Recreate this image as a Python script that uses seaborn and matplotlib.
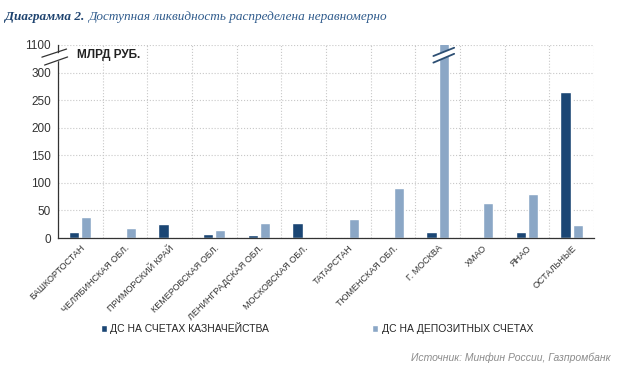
import numpy as np
import pandas as pd
import seaborn as sns
import matplotlib.pyplot as plt
from matplotlib.lines import Line2D
from matplotlib.patches import Polygon

regions = ['БАШКОРТОСТАН', 'ЧЕЛЯБИНСКАЯ ОБЛ.', 'ПРИМОРСКИЙ КРАЙ', 'КЕМЕРОВСКАЯ ОБЛ.',
           'ЛЕНИНГРАДСКАЯ ОБЛ.', 'МОСКОВСКАЯ ОБЛ.', 'ТАТАРСТАН', 'ТЮМЕНСКАЯ ОБЛ.',
           'Г. МОСКВА', 'ХМАО', 'ЯНАО', 'ОСТАЛЬНЫЕ']
treasury = [11, 0, 26, 8, 5, 28, 0, 2.5, 10, 0.5, 10, 265]
deposits = [39, 19, 0, 15, 28, 0, 35, 90, 1100, 64, 79, 23]
series = ['ДС НА СЧЕТАХ КАЗНАЧЕЙСТВА', 'ДС НА ДЕПОЗИТНЫХ СЧЕТАХ']
yticks = [0, 50, 100, 150, 200, 250, 300, 350]
ytick_labels = ['0', '50', '100', '150', '200', '250', '300', '1100']

dark = '#1b4674'
light = '#8ba7c6'

df = pd.DataFrame({
    'region': regions * 2,
    'value': treasury + deposits,
    'series': [series[0]] * len(regions) + [series[1]] * len(regions),
})

sns.set_style('white')
plt.rcParams['font.family'] = ['Liberation Sans Narrow', 'Liberation Sans', 'DejaVu Sans']

fig = plt.figure(figsize=(6.2, 3.74), dpi=100)
ax = fig.add_axes([0.0935, 0.3636, 0.8645, 0.5161])

sns.barplot(data=df, x='region', y='value', hue='series', palette=[dark, light],
            width=0.55, gap=0.18, saturation=1, ax=ax, legend=True)

ax.set_ylim(0, 350)
ax.set_xlim(-0.5, len(regions) - 0.5)
ax.set_yticks(yticks)
ax.set_yticklabels(ytick_labels, fontsize=8.5, color='#333333')
ax.set_xticks(range(len(regions)))
ax.set_xticklabels(regions, rotation=45, ha='right', rotation_mode='anchor',
                   fontsize=6.5, color='#333333')
ax.tick_params(axis='x', which='major', length=0, pad=4)
ax.set_xticks(np.arange(-0.5, len(regions), 1), minor=True)
ax.tick_params(axis='x', which='minor', length=3, color='#333333', direction='out')
ax.tick_params(axis='y', length=3, color='#333333', direction='out', pad=2)
ax.set_xlabel('')
ax.set_ylabel('')

ax.grid(axis='y', which='major', color='#c8c8c8', linestyle=':', linewidth=0.8)
ax.grid(axis='x', which='minor', color='#c8c8c8', linestyle=':', linewidth=0.8)
ax.set_axisbelow(True)
for s in ['top', 'right']:
    ax.spines[s].set_visible(False)
for s in ['left', 'bottom']:
    ax.spines[s].set_color('#333333')
    ax.spines[s].set_linewidth(0.9)

# axis break marks on the y axis
tr = ax.transAxes
ax.add_patch(Polygon([(-0.008, 0.906), (0.008, 0.923), (0.008, 0.965), (-0.008, 0.948)],
                     closed=True, transform=tr, facecolor='white', edgecolor='none',
                     clip_on=False, zorder=5))
for (xa, ya), (xb, yb) in [((-0.030, 0.937), (0.016, 0.979)),
                           ((-0.025, 0.896), (0.018, 0.938))]:
    ax.add_line(Line2D([xa, xb], [ya, yb], transform=tr,
                       color='#333333', lw=0.9, clip_on=False, zorder=6))

# break marks on the Moscow deposit bar
idx = regions.index('Г. МОСКВА')
bar = ax.containers[1][idx]
bx0 = bar.get_x() - 0.12
bx1 = bar.get_x() + bar.get_width() + 0.12
ax.add_patch(Polygon([(bx0, 318), (bx1, 334), (bx1, 345), (bx0, 330)], closed=True,
                     facecolor='white', edgecolor='none', zorder=5, clip_on=False))
for ya, yb in [(318, 334), (330, 345)]:
    ax.add_line(Line2D([bx0, bx1], [ya, yb], color='#2d4f73', lw=1.3, zorder=6, clip_on=False))

ax.text(0.035, 0.95, 'МЛРД РУБ.', transform=tr, fontsize=8.5, fontweight='bold',
        color='#222222', va='center', ha='left')

ax.legend(loc='center', bbox_to_anchor=(0.511, 0.123), bbox_transform=fig.transFigure,
          ncol=2, frameon=False, fontsize=7.5, handlelength=0.6, handleheight=0.6,
          handletextpad=0.3, columnspacing=9.9)

t1 = fig.text(0.008, 0.955, 'Диаграмма 2.', fontsize=9.5, fontweight='bold',
              fontstyle='italic', color='#1f4470', family=['Liberation Serif', 'DejaVu Serif'],
              va='center', ha='left')
fig.canvas.draw()
bb = t1.get_window_extent().transformed(fig.transFigure.inverted())
fig.text(bb.x1 + 0.006, 0.955, 'Доступная ликвидность распределена неравномерно',
         fontsize=9.5, fontstyle='italic', color='#2f5b8c',
         family=['Liberation Serif', 'DejaVu Serif'], va='center', ha='left')

fig.text(0.985, 0.043, 'Источник: Минфин России, Газпромбанк', fontsize=7.5,
         fontstyle='italic', color='#8c8c8c', ha='right', va='center')

fig.savefig('out.png', dpi=100)
